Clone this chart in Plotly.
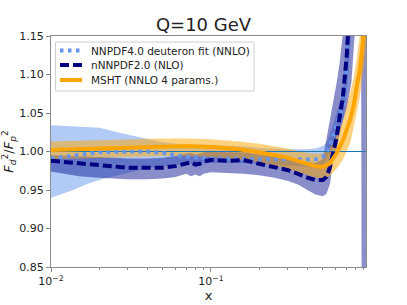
import plotly.graph_objects as go

# NNPDF4.0 deuteron fit (NNLO)
x_nn4 = [0.01, 0.013, 0.017, 0.02, 0.03, 0.04, 0.05, 0.07, 0.1, 0.15, 0.2, 0.3, 0.4, 0.45, 0.5, 0.53, 0.57, 0.6, 0.64, 0.668, 0.7, 0.73, 0.76]
c_nn4 = [0.991, 0.994, 0.998, 0.999, 1.000, 1.000, 0.998, 0.993, 0.991, 0.990, 0.990, 0.990, 0.990, 0.990, 0.993, 1.000, 1.015, 1.03, 1.048, 1.06, 1.10, 1.15, 1.22]
lo_nn4 = [0.940, 0.948, 0.958, 0.963, 0.972, 0.978, 0.981, 0.984, 0.985, 0.985, 0.984, 0.982, 0.980, 0.979, 0.982, 0.990, 1.003, 1.015, 1.03, 1.04, 1.07, 1.11, 1.17]
up_nn4 = [1.034, 1.033, 1.032, 1.031, 1.022, 1.016, 1.012, 1.009, 1.008, 1.007, 1.005, 1.003, 1.003, 1.004, 1.007, 1.012, 1.03, 1.045, 1.065, 1.08, 1.13, 1.19, 1.27]

# nNNPDF2.0 (NLO)
x_n2 = [0.01, 0.015, 0.02, 0.03, 0.04, 0.05, 0.06, 0.07, 0.075, 0.08, 0.085, 0.09, 0.1, 0.13, 0.16, 0.2, 0.25, 0.3, 0.35, 0.4, 0.45, 0.5, 0.527, 0.555, 0.58, 0.611, 0.637, 0.668, 0.705, 0.755, 0.79, 0.83, 0.86, 0.868, 0.875, 0.9, 0.93]
c_n2 = [0.988, 0.985, 0.982, 0.979, 0.979, 0.979, 0.981, 0.985, 0.986, 0.983, 0.984, 0.987, 0.989, 0.988, 0.989, 0.984, 0.980, 0.976, 0.971, 0.966, 0.963, 0.963, 0.967, 0.980, 0.998, 1.019, 1.045, 1.071, 1.123, 1.20, 1.26, 1.33, 1.40, 1.42, 1.45, 1.5, 1.55]
lo_n2 = [0.974, 0.968, 0.966, 0.964, 0.964, 0.965, 0.967, 0.971, 0.968, 0.970, 0.968, 0.971, 0.973, 0.972, 0.971, 0.969, 0.966, 0.962, 0.957, 0.950, 0.944, 0.942, 0.945, 0.958, 0.99, 1.005, 1.02, 1.04, 1.055, 1.09, 1.15, 1.25, 1.35, 1.15, 0.80, 0.75, 0.75]
up_n2 = [0.995, 0.994, 0.993, 0.991, 0.991, 0.992, 0.994, 0.997, 0.998, 0.996, 0.997, 0.999, 1.000, 0.999, 0.999, 0.996, 0.993, 0.990, 0.988, 0.986, 0.985, 0.990, 1.015, 1.04, 1.063, 1.09, 1.115, 1.149, 1.20, 1.28, 1.35, 1.42, 1.5, 1.6, 1.7, 1.8, 1.9]

# MSHT (NNLO 4 params.)
x_ms = [0.01, 0.02, 0.03, 0.05, 0.07, 0.1, 0.15, 0.2, 0.3, 0.4, 0.45, 0.5, 0.55, 0.611, 0.67, 0.74, 0.78, 0.814, 0.85, 0.875, 0.904, 0.93]
c_ms = [1.002, 1.004, 1.005, 1.006, 1.007, 1.006, 1.003, 0.999, 0.992, 0.984, 0.981, 0.980, 0.984, 0.998, 1.015, 1.041, 1.06, 1.084, 1.105, 1.127, 1.15, 1.18]
lo_ms = [0.990, 0.992, 0.993, 0.994, 0.994, 0.993, 0.990, 0.986, 0.978, 0.970, 0.966, 0.965, 0.968, 0.978, 0.99, 1.01, 1.03, 1.05, 1.07, 1.09, 1.11, 1.14]
up_ms = [1.013, 1.015, 1.016, 1.017, 1.017, 1.016, 1.013, 1.010, 1.004, 0.998, 0.997, 0.997, 1.003, 1.02, 1.04, 1.075, 1.095, 1.12, 1.145, 1.17, 1.2, 1.23]

series_names = ["NNPDF4.0 deuteron fit (NNLO)", "nNNPDF2.0 (NLO)", "MSHT (NNLO 4 params.)"]
y_ticks = [0.85, 0.90, 0.95, 1.00, 1.05, 1.10, 1.15]
x_ticks = [0.01, 0.1]
x_ticktext = ["10<sup>\u22122</sup>", "10<sup>\u22121</sup>"]
x_minor = [0.02, 0.03, 0.04, 0.05, 0.06, 0.07, 0.08, 0.09, 0.2, 0.3, 0.4, 0.5, 0.6, 0.7, 0.8, 0.9]

W, H = 407, 305
ML, MR, MT, MB = 51, 41, 36, 38
PW, PH = W - ML - MR, H - MT - MB

def px(xp):
    return (xp - ML) / PW

def py(yp):
    return (H - MB - yp) / PH

fig = go.Figure()

def band(x, lo, up, color):
    fig.add_trace(go.Scatter(x=x, y=lo, mode="lines", line=dict(width=0), showlegend=False, hoverinfo="skip"))
    fig.add_trace(go.Scatter(x=x, y=up, mode="lines", line=dict(width=0), fill="tonexty",
                             fillcolor=color, showlegend=False, hoverinfo="skip"))

band(x_nn4, lo_nn4, up_nn4, "rgba(100,149,237,0.5)")
band(x_n2, lo_n2, up_n2, "rgba(20,30,150,0.5)")
band(x_ms, lo_ms, up_ms, "rgba(255,165,0,0.5)")

fig.add_trace(go.Scatter(x=[0.01, 0.93], y=[1.0, 1.0], mode="lines",
                         line=dict(color="#1f77b4", width=1), showlegend=False))

styles = [dict(color="#6495ED", width=4, dash="3.5px,4.5px"),
          dict(color="#000080", width=4, dash="9px,4px"),
          dict(color="#FFA500", width=4)]

fig.add_trace(go.Scatter(x=x_nn4, y=c_nn4, mode="lines", name=series_names[0], line=styles[0], showlegend=False))
fig.add_trace(go.Scatter(x=x_n2, y=c_n2, mode="lines", name=series_names[1], line=styles[1], showlegend=False))
fig.add_trace(go.Scatter(x=x_ms, y=c_ms, mode="lines", name=series_names[2], line=styles[2], showlegend=False))

# manual legend (compact like matplotlib)
shapes = [dict(type="rect", xref="paper", yref="paper", x0=px(55.5), x1=px(254), y0=py(91), y1=py(42),
               line=dict(color="#d0d0d0", width=1), fillcolor="rgba(255,255,255,0.85)", layer="above")]
annotations = []
row_y = [50.5, 65, 80]
for name, st, yy in zip(series_names, styles, row_y):
    shapes.append(dict(type="line", xref="paper", yref="paper", x0=px(60), x1=px(82), y0=py(yy), y1=py(yy),
                       line=st, layer="above"))
    annotations.append(dict(text=name, xref="paper", yref="paper", x=px(89), y=py(yy),
                            xanchor="left", yanchor="middle", showarrow=False,
                            font=dict(size=10.5, color="#222")))

axis_col = "#8a8a8a"
fig.update_layout(
    width=W, height=H,
    margin=dict(l=ML, r=MR, t=MT, b=MB),
    paper_bgcolor="white", plot_bgcolor="white",
    font=dict(family="DejaVu Sans", color="#222", size=11),
    title=dict(text="Q=10 GeV", x=0.5, xanchor="center", y=1 - 25 / H, yanchor="middle",
               yref="container", font=dict(size=18, color="#222")),
    showlegend=False,
    shapes=shapes, annotations=annotations,
)
fig.update_xaxes(type="log", range=[-2, -0.031], tickmode="array", tickvals=x_ticks, ticktext=x_ticktext,
                 ticks="outside", ticklen=4, tickcolor=axis_col, showgrid=False, zeroline=False,
                 showline=True, linecolor=axis_col, linewidth=1, mirror=True, automargin=False,
                 minor=dict(ticks="outside", ticklen=2, tickcolor=axis_col, tickmode="array", tickvals=x_minor, showgrid=False),
                 title=dict(text="x", font=dict(size=13), standoff=0), tickfont=dict(size=11))
fig.update_yaxes(range=[0.85, 1.15], tickmode="array", tickvals=y_ticks,
                 ticktext=["%.2f" % v for v in y_ticks],
                 ticks="outside", ticklen=4, tickcolor=axis_col, showgrid=False, zeroline=False,
                 showline=True, linecolor=axis_col, linewidth=1, mirror=True, automargin=False,
                 title=dict(text="<i>F</i><sub><i>d</i></sub><sup>2</sup>/<i>F</i><sub><i>p</i></sub><sup>2</sup>",
                            font=dict(size=13), standoff=4), tickfont=dict(size=11))

fig.write_html("out.html", config={"displayModeBar": False},
               post_script="document.body.style.margin='0';document.body.style.overflow='hidden';")
